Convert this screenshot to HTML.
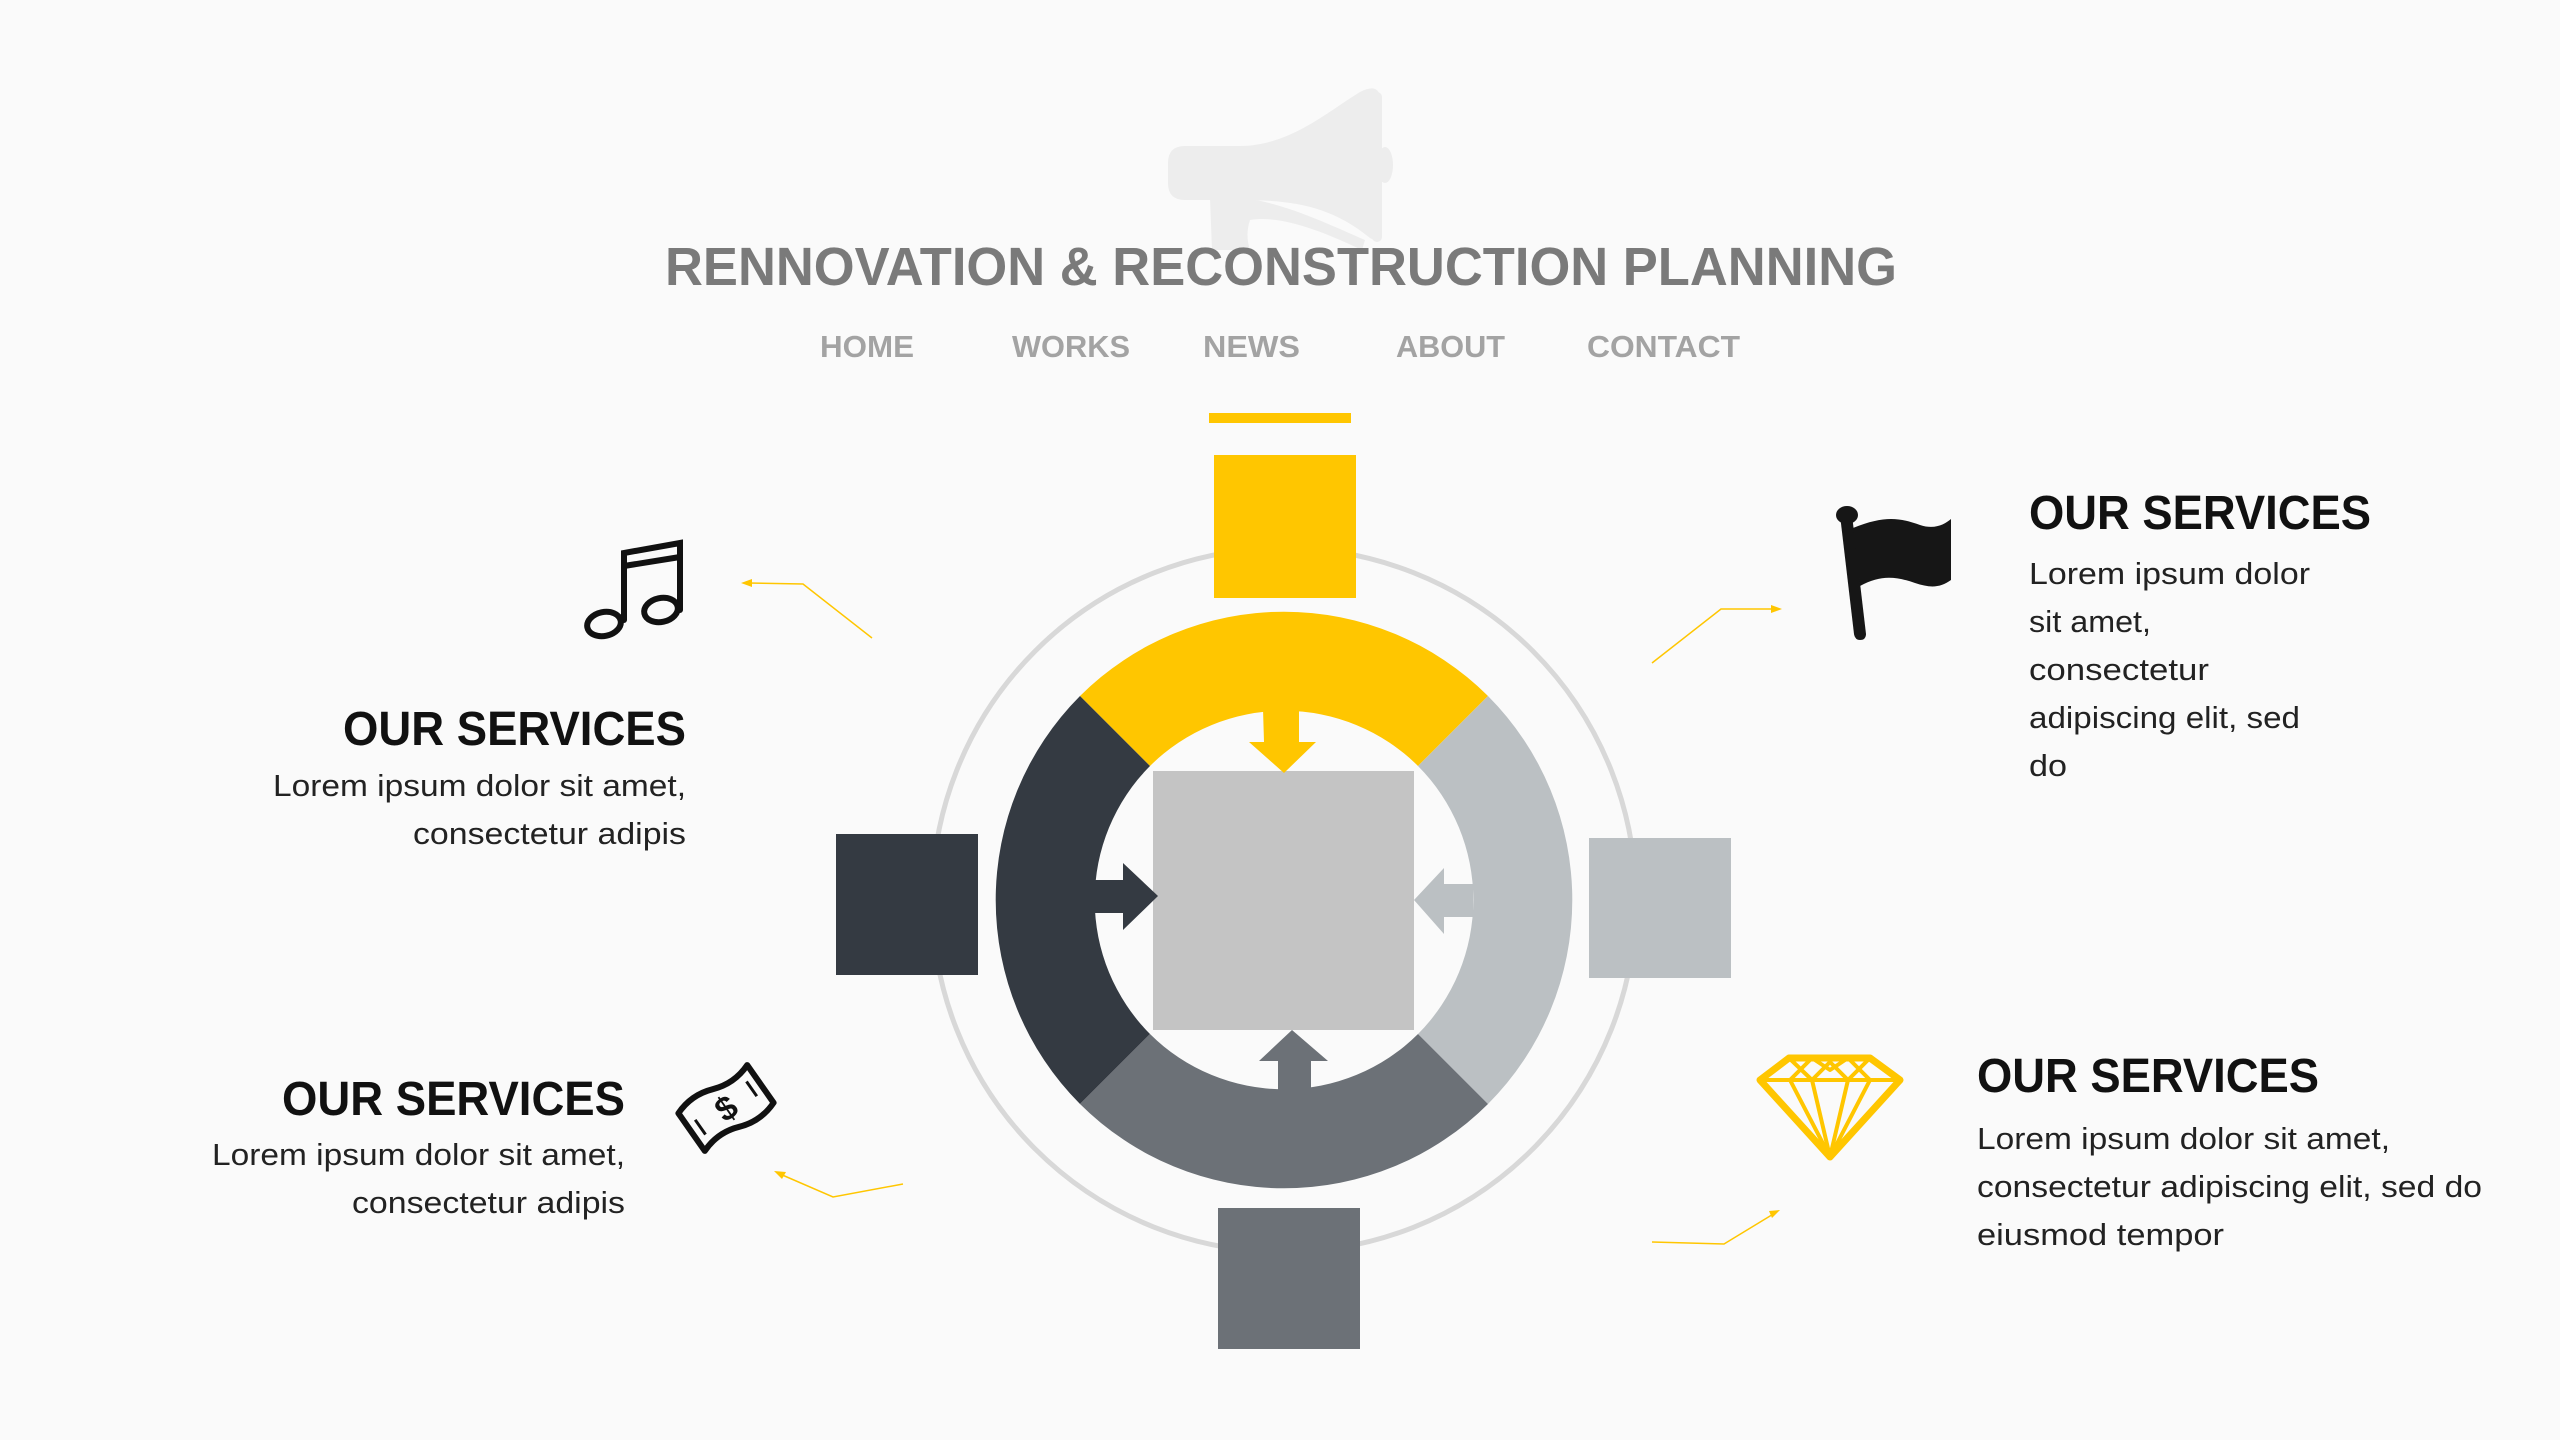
<!DOCTYPE html>
<html><head><meta charset="utf-8"><style>
html,body{margin:0;padding:0;background:#fafafa;}
svg{display:block;}
text{font-family:"Liberation Sans",sans-serif;}
</style></head><body>
<svg width="2560" height="1440" viewBox="0 0 2560 1440" xmlns="http://www.w3.org/2000/svg">
<rect width="2560" height="1440" fill="#fafafa"/>
<!-- faint megaphone -->
<g fill="#ededed">
<path d="M1185 146 H1240 C1290 146 1330 110 1360 92 Q1380 82 1380 100 V232 Q1380 244 1370 238 C1330 205 1290 200 1240 200 H1185 Q1168 200 1168 183 V163 Q1168 146 1185 146Z"/>
<path d="M1210 198 H1245 C1290 205 1330 225 1365 240 L1362 250 C1320 230 1280 215 1250 220 Q1245 235 1250 250 H1212Z"/>
<rect x="1372" y="92" width="10" height="150" rx="5"/>
<ellipse cx="1385" cy="165" rx="8" ry="18"/>
</g>
<text x="665" y="285" font-size="54" font-weight="bold" fill="#7a7a7a" textLength="1232" lengthAdjust="spacingAndGlyphs">RENNOVATION &amp; RECONSTRUCTION PLANNING</text>
<g font-size="31" font-weight="bold" fill="#a3a3a3">
<text x="820" y="357" textLength="94" lengthAdjust="spacingAndGlyphs">HOME</text>
<text x="1012" y="357" textLength="118" lengthAdjust="spacingAndGlyphs">WORKS</text>
<text x="1203" y="357" textLength="97" lengthAdjust="spacingAndGlyphs">NEWS</text>
<text x="1396" y="357" textLength="109" lengthAdjust="spacingAndGlyphs">ABOUT</text>
<text x="1587" y="357" textLength="153" lengthAdjust="spacingAndGlyphs">CONTACT</text>
</g>
<!-- outer circle -->
<circle cx="1284" cy="900" r="352" fill="none" stroke="#d8d8d8" stroke-width="5"/>
<!-- ring segments -->
<path d="M1080 696 A289 289 0 0 1 1488 696 L1418 766 A190 190 0 0 0 1150 766Z" fill="#ffc600"/>
<path d="M1488 696 A289 289 0 0 1 1488 1104 L1418 1034 A190 190 0 0 0 1418 766Z" fill="#bbc0c3"/>
<path d="M1488 1104 A289 289 0 0 1 1080 1104 L1150 1034 A190 190 0 0 0 1418 1034Z" fill="#6c7177"/>
<path d="M1080 1104 A289 289 0 0 1 1080 696 L1150 766 A190 190 0 0 0 1150 1034Z" fill="#343a42"/>
<!-- center square -->
<rect x="1153" y="771" width="261" height="259" fill="#c4c4c4"/>
<!-- arrows -->
<path d="M1263 709 H1299 V742 H1316 L1284 773 L1249 742 H1264Z" fill="#ffc600"/>
<path d="M1094 880 H1123 V863 L1158 896 L1123 930 V913 H1094Z" fill="#343a42"/>
<path d="M1473 884 H1444 V868 L1414 900 L1444 934 V917 H1473Z" fill="#bbc0c3"/>
<path d="M1278 1091 V1061 H1259 L1292 1030 L1328 1061 H1311 V1091Z" fill="#6c7177"/>
<!-- outer squares -->
<rect x="1209" y="413" width="142" height="10" fill="#ffc600"/>
<rect x="1214" y="455" width="142" height="143" fill="#ffc600"/>
<rect x="836" y="834" width="142" height="141" fill="#343a42"/>
<rect x="1589" y="838" width="142" height="140" fill="#bbc0c3"/>
<rect x="1218" y="1208" width="142" height="141" fill="#6c7177"/>
<!-- connectors -->
<g fill="none" stroke="#ffc600" stroke-width="1.5">
<polyline points="872,638 803,584 748,583"/>
<polyline points="1652,663 1721,609 1775,609"/>
<polyline points="903,1184 833,1197 780,1174"/>
<polyline points="1652,1242 1724,1244 1775,1213"/>
</g>
<g fill="#ffc600">
<path d="M741 583 L752 579 L752 587Z"/>
<path d="M1782 609 L1771 605 L1771 613Z"/>
<path d="M774 1171 L786 1172 L782 1179Z"/>
<path d="M1780 1210 L1772 1218 L1769 1211Z"/>
</g>
<!-- music icon -->
<g fill="none" stroke="#111" stroke-width="6" stroke-linecap="round">
<path d="M624 620 V553 L680 543 V610"/>
<path d="M624 566 L680 557"/>
<ellipse cx="604" cy="624" rx="17" ry="12" transform="rotate(-12 604 624)"/>
<ellipse cx="661" cy="610" rx="17" ry="12" transform="rotate(-12 661 610)"/>
</g>
<!-- flag icon -->
<g fill="#161616">
<path d="M1840 515 L1852 515 L1866 634 Q1866 640 1860 640 Q1855 640 1854 634Z"/>
<ellipse cx="1847" cy="515" rx="11" ry="9"/>
<path d="M1853 528 C1885 515 1900 518 1920 525 C1935 530 1945 524 1951 519 V580 C1940 588 1930 588 1915 583 C1895 576 1880 575 1860 586Z"/>
</g>
<!-- money icon -->
<g transform="rotate(-35 726 1108)" fill="none" stroke="#111" stroke-width="6" stroke-linejoin="round">
<path d="M684 1085 Q705 1077 726 1085 Q747 1093 768 1085 V1131 Q747 1139 726 1131 Q705 1123 684 1131Z"/>
<path d="M694 1100 V1118 M758 1098 V1116" stroke-width="3"/>
</g>
<text x="726" y="1120" font-size="34" font-weight="bold" fill="#111" text-anchor="middle" transform="rotate(-35 726 1108)">$</text>
<!-- diamond icon -->
<g fill="none" stroke="#ffc600" stroke-width="7" stroke-linejoin="round">
<path d="M1789 1058 H1870 L1900 1080 L1830 1157 L1760 1080Z"/>
<g stroke-width="4">
<path d="M1760 1080 H1900"/>
<path d="M1789 1058 L1812 1080 L1830 1157 L1848 1080 L1870 1058"/>
<path d="M1812 1058 L1790 1080 L1830 1157 L1870 1080 L1848 1058"/>
<path d="M1812 1080 L1830 1062 L1848 1080 M1812 1058 L1830 1070 L1848 1058"/>
</g>
</g>
<!-- texts -->
<g font-weight="bold" fill="#111" font-size="48">
<text x="343" y="745" textLength="343" lengthAdjust="spacingAndGlyphs">OUR SERVICES</text>
<text x="282" y="1115" textLength="343" lengthAdjust="spacingAndGlyphs">OUR SERVICES</text>
<text x="2029" y="529" textLength="342" lengthAdjust="spacingAndGlyphs">OUR SERVICES</text>
<text x="1977" y="1092" textLength="342" lengthAdjust="spacingAndGlyphs">OUR SERVICES</text>
</g>
<g fill="#222" font-size="31">
<text x="273" y="796" textLength="413" lengthAdjust="spacingAndGlyphs">Lorem ipsum dolor sit amet,</text>
<text x="413" y="844" textLength="273" lengthAdjust="spacingAndGlyphs">consectetur adipis</text>
<text x="212" y="1165" textLength="413" lengthAdjust="spacingAndGlyphs">Lorem ipsum dolor sit amet,</text>
<text x="352" y="1213" textLength="273" lengthAdjust="spacingAndGlyphs">consectetur adipis</text>
<text x="2029" y="584" textLength="281" lengthAdjust="spacingAndGlyphs">Lorem ipsum dolor</text>
<text x="2029" y="632" textLength="122" lengthAdjust="spacingAndGlyphs">sit amet,</text>
<text x="2029" y="680" textLength="180" lengthAdjust="spacingAndGlyphs">consectetur</text>
<text x="2029" y="728" textLength="271" lengthAdjust="spacingAndGlyphs">adipiscing elit, sed</text>
<text x="2029" y="776" textLength="38" lengthAdjust="spacingAndGlyphs">do</text>
<text x="1977" y="1149" textLength="413" lengthAdjust="spacingAndGlyphs">Lorem ipsum dolor sit amet,</text>
<text x="1977" y="1197" textLength="505" lengthAdjust="spacingAndGlyphs">consectetur adipiscing elit, sed do</text>
<text x="1977" y="1245" textLength="247" lengthAdjust="spacingAndGlyphs">eiusmod tempor</text>
</g>
</svg>
</body></html>
